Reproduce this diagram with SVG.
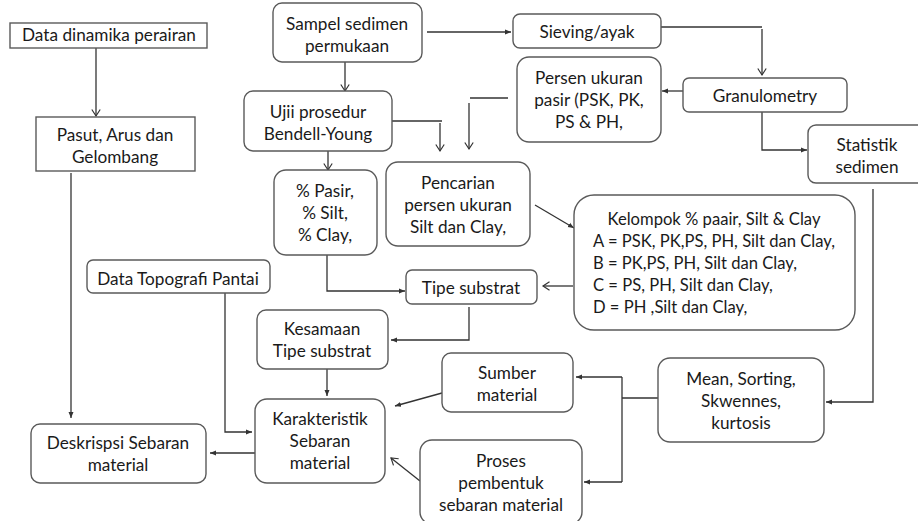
<svg xmlns="http://www.w3.org/2000/svg" width="918" height="521" viewBox="0 0 918 521">
<defs>
<marker id="fa" markerUnits="userSpaceOnUse" markerWidth="8" markerHeight="8" refX="6" refY="3" orient="auto">
<path d="M0,0.5 L6,3 L0,5.5 Z" fill="#333"/>
</marker>
<marker id="oa" markerUnits="userSpaceOnUse" markerWidth="12" markerHeight="12" refX="7" refY="5" orient="auto">
<path d="M0.5,0.8 L7,5 L0.5,9.2" fill="none" stroke="#333" stroke-width="1.2"/>
</marker>
</defs>
<style>
.b{fill:#fff;stroke:#5a5a5a;stroke-width:1.4}
.t{font-family:Lato,"Liberation Sans",sans-serif;font-size:17.2px;fill:#1a1a1a;text-anchor:middle}
.l{text-anchor:start;font-size:16.6px}
.k{font-size:16.6px}
.c{fill:none;stroke:#333;stroke-width:1.3}
.f{marker-end:url(#fa)}
.o{marker-end:url(#oa)}
</style>
<rect width="918" height="521" fill="#fff"/>
<g id="connectors">
<path class="c o" d="M96,48 V116"/>
<path class="c f" d="M71,173 V418"/>
<path class="c f" d="M427,32 H511"/>
<path class="c o" d="M345,62 V91"/>
<path class="c" d="M392,121 H442"/>
<path class="c o" d="M440,123 V151"/>
<path class="c" d="M508,98 H470"/>
<path class="c o" d="M469,103 V149"/>
<path class="c o" d="M328,151 V170"/>
<path class="c" d="M661,27 H762"/>
<path class="c o" d="M762,29 V75"/>
<path class="c f" d="M683,91 H662"/>
<path class="c f" d="M762,112 V150 H807"/>
<path class="c f" d="M873,189 V402 H826"/>
<path class="c f" d="M535,205 L574,228"/>
<path class="c o" d="M763,205 V234"/>
<path class="c o" d="M573,286 H543"/>
<path class="c f" d="M327,255 V291 H405"/>
<path class="c f" d="M469,307 V340 H391"/>
<path class="c f" d="M327,369 V396"/>
<path class="c f" d="M225,293 V432 H252"/>
<path class="c f" d="M255,453 H210"/>
<path class="c f" d="M442,393 L395,406"/>
<path class="c o" d="M420,481 L391,458"/>
<path class="c" d="M658,398 H622"/>
<path class="c" d="M622,377 V482"/>
<path class="c f" d="M622,377 H576"/>
<path class="c f" d="M622,482 H584"/>
</g>
<g id="n1"><rect class="b" x="10" y="23" width="197" height="25"/><text class="t" x="109" y="40.5">Data dinamika perairan</text></g>
<g id="n2"><rect class="b" x="36" y="117" width="159" height="54"/><text class="t" x="115" y="140.5">Pasut, Arus dan</text><text class="t" x="115" y="162.5">Gelombang</text></g>
<g id="n3"><rect class="b" x="273" y="3" width="149" height="59" rx="9"/><text class="t" x="347" y="29.5">Sampel sedimen</text><text class="t" x="347" y="51.5">permukaan</text></g>
<g id="n4"><rect class="b" x="513" y="14" width="148" height="34" rx="7"/><text class="t" x="587" y="37.5">Sieving/ayak</text></g>
<g id="n5"><rect class="b" x="244" y="91" width="148" height="60" rx="9"/><text class="t" x="318" y="117.5">Ujii prosedur</text><text class="t" x="318" y="139.5">Bendell-Young</text></g>
<g id="n6"><rect class="b" x="517" y="57" width="144" height="85" rx="12"/><text class="t" x="589" y="84">Persen ukuran</text><text class="t" x="589" y="106">pasir (PSK, PK,</text><text class="t" x="589" y="128">PS &amp; PH,</text></g>
<g id="n7"><rect class="b" x="683" y="78" width="164" height="34" rx="6"/><text class="t" x="765" y="101.5">Granulometry</text></g>
<g id="n8"><rect class="b" x="808" y="125" width="120" height="58" rx="8"/><text class="t" x="867" y="150.5">Statistik</text><text class="t" x="867" y="173">sedimen</text></g>
<g id="n9"><rect class="b" x="274" y="170" width="103" height="85" rx="12"/><text class="t" x="325" y="196.5">% Pasir,</text><text class="t" x="325" y="218.5">% Silt,</text><text class="t" x="325" y="240.5">% Clay,</text></g>
<g id="n10"><rect class="b" x="386" y="162" width="144" height="84" rx="12"/><text class="t" x="458" y="189">Pencarian</text><text class="t" x="458" y="211">persen ukuran</text><text class="t" x="458" y="233">Silt dan Clay,</text></g>
<g id="n11"><rect class="b" x="574" y="195" width="281" height="135" rx="20"/><text class="t k" x="714" y="225">Kelompok % paair, Silt &amp; Clay</text><text class="t l" x="593" y="247">A = PSK, PK,PS, PH, Silt dan Clay,</text><text class="t l" x="593" y="269">B = PK,PS, PH, Silt dan Clay,</text><text class="t l" x="593" y="291">C = PS, PH, Silt dan Clay,</text><text class="t l" x="593" y="313">D = PH ,Silt dan Clay,</text></g>
<g id="n12"><rect class="b" x="406" y="270" width="131" height="34" rx="6"/><text class="t" x="471" y="293.5">Tipe substrat</text></g>
<g id="n13"><rect class="b" x="87" y="260" width="183" height="33" rx="6"/><text class="t" x="178" y="284.5">Data Topografi Pantai</text></g>
<g id="n14"><rect class="b" x="257" y="310" width="131" height="59" rx="9"/><text class="t" x="322" y="334.5">Kesamaan</text><text class="t" x="322" y="357">Tipe substrat</text></g>
<g id="n15"><rect class="b" x="255" y="399" width="130" height="84" rx="12"/><text class="t" x="320" y="424.5">Karakteristik</text><text class="t" x="320" y="446.5">Sebaran</text><text class="t" x="320" y="468.5">material</text></g>
<g id="n16"><rect class="b" x="31" y="424" width="175" height="59" rx="9"/><text class="t" x="118" y="448.5">Deskrispsi Sebaran</text><text class="t" x="118" y="471">material</text></g>
<g id="n17"><rect class="b" x="442" y="353" width="131" height="59" rx="9"/><text class="t" x="507" y="378.5">Sumber</text><text class="t" x="507" y="400.5">material</text></g>
<g id="n18"><rect class="b" x="420" y="440" width="162" height="84" rx="12"/><text class="t" x="501" y="466.5">Proses</text><text class="t" x="501" y="488.5">pembentuk</text><text class="t" x="501" y="510.5">sebaran material</text></g>
<g id="n19"><rect class="b" x="658" y="358" width="166" height="84" rx="12"/><text class="t" x="741" y="384.5">Mean, Sorting,</text><text class="t" x="741" y="406.5">Skwennes,</text><text class="t" x="741" y="428.5">kurtosis</text></g>
</svg>
